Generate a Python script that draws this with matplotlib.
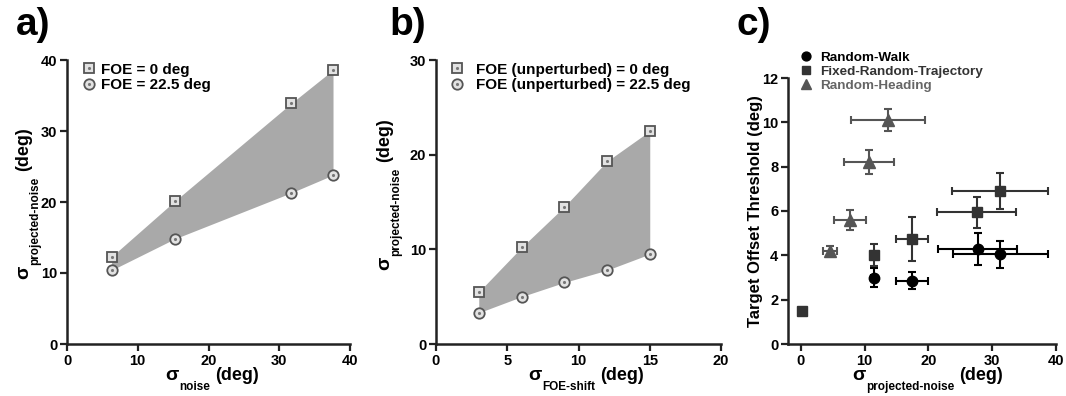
import numpy as np
import matplotlib
matplotlib.use("Agg")
import matplotlib.pyplot as plt
from matplotlib.legend_handler import HandlerTuple
from matplotlib.transforms import IdentityTransform

plt.rcParams['font.family'] = 'Liberation Sans'
plt.rcParams['font.weight'] = 'bold'
plt.rcParams['axes.labelweight'] = 'bold'

# panel a
a_noise = [6.3, 15.2, 31.7, 37.6]
a_foe0 = [12.3, 20.1, 33.9, 38.6]
a_foe225 = [10.4, 14.8, 21.3, 23.8]

# panel b
b_shift = [3, 6, 9, 12, 15]
b_foe0 = [5.5, 10.2, 14.5, 19.3, 22.5]
b_foe225 = [3.3, 5.0, 6.5, 7.8, 9.5]

# panel c
rw_x = [11.5, 17.5, 27.7, 31.3]
rw_y = [3.0, 2.85, 4.3, 4.05]
rw_xerr = [0.5, 2.5, 6.2, 7.5]
rw_yerr = [0.45, 0.38, 0.72, 0.6]

frt_x = [0.2, 11.5, 17.5, 27.6, 31.2]
frt_y = [1.5, 4.0, 4.75, 5.95, 6.9]
frt_xerr = [0.0, 0.5, 2.5, 6.2, 7.5]
frt_yerr = [0.0, 0.5, 1.0, 0.7, 0.8]

rh_x = [4.6, 7.7, 10.7, 13.7]
rh_y = [4.2, 5.6, 8.2, 10.1]
rh_xerr = [1.1, 2.5, 3.9, 5.8]
rh_yerr = [0.22, 0.45, 0.55, 0.5]

W, H = 1066, 396
fig = plt.figure(figsize=(W / 100, H / 100), dpi=100)
axa = fig.add_axes([67 / W, 1 - 344 / H, 283 / W, 284 / H])
axb = fig.add_axes([436 / W, 1 - 344 / H, 285 / W, 284 / H])
axc = fig.add_axes([788 / W, 1 - 344 / H, 268 / W, 266 / H])
renderer = fig.canvas.get_renderer()

FILL = '#a9a9a9'
EDGE = '#555555'


def style(ax):
    for s in ['top', 'right']:
        ax.spines[s].set_visible(False)
    for s in ['left', 'bottom']:
        ax.spines[s].set_linewidth(1.8)
        ax.spines[s].set_color('#222222')
    ax.tick_params(width=1.6, length=5, labelsize=10.5, color='#222222', pad=2)
    for lab in ax.get_xticklabels() + ax.get_yticklabels():
        lab.set_fontweight('bold')


def sigma_label(x, y, sub, vertical=False):
    # x, y: pixel position (from top-left) of the start of the sigma baseline
    pieces = [('σ', 14, 0, 0), (sub, 8.5, 10, 1), ('(deg)', 13, 0, 5)]
    pos = 0
    for s, size, drop, gap in pieces:
        pos += gap
        t = fig.text(0, 0, s, transform=IdentityTransform(), fontsize=size,
                     fontweight='bold', rotation_mode='anchor',
                     ha='left', va='baseline')
        w = t.get_window_extent(renderer).width
        if vertical:
            t.set_position((x + drop, H - (y - pos)))
            t.set_rotation(90)
        else:
            t.set_position((x + pos, H - (y + drop)))
        pos += w


def shaded(ax, x, top, bot, labels, anchor, textpad):
    ax.fill_between(x, bot, top, color=FILL, lw=0)
    mk = dict(ms=7.5, mfc='#e2e2e2', mec=EDGE, mew=1.3, ls='none')
    dot = dict(marker='.', ms=2.5, color='#777777', ls='none')
    ax.plot(x, top, 's', zorder=3, **mk)
    ax.plot(x, top, zorder=4, **dot)
    ax.plot(x, bot, 'o', zorder=3, **mk)
    ax.plot(x, bot, zorder=4, **dot)
    hs = ax.plot([], [], 's', **mk)[0]
    hc = ax.plot([], [], 'o', **mk)[0]
    hd = ax.plot([], [], **dot)[0]
    ax.legend([(hs, hd), (hc, hd)], labels, loc='upper left',
              bbox_to_anchor=anchor, frameon=False, borderpad=0,
              borderaxespad=0, handlelength=0.8, handletextpad=textpad,
              labelspacing=0.1, prop={'weight': 'bold', 'size': 11},
              handler_map={tuple: HandlerTuple(ndivide=1, pad=0)})


# a)
shaded(axa, a_noise, a_foe0, a_foe225, ['FOE = 0 deg', 'FOE = 22.5 deg'],
       (0.057, 0.99), 0.35)
axa.set_xlim(0, 40)
axa.set_ylim(0, 40)
axa.set_xticks([0, 10, 20, 30, 40])
axa.set_yticks([0, 10, 20, 30, 40])
style(axa)
sigma_label(165, 380, 'noise')
sigma_label(28, 279, 'projected-noise', vertical=True)

# b)
shaded(axb, b_shift, b_foe0, b_foe225,
       ['FOE (unperturbed) = 0 deg', 'FOE (unperturbed) = 22.5 deg'],
       (0.053, 0.99), 0.8)
axb.set_xlim(0, 20)
axb.set_ylim(0, 30)
axb.set_xticks([0, 5, 10, 15, 20])
axb.set_yticks([0, 10, 20, 30])
style(axb)
sigma_label(528, 380, 'FOE-shift')
sigma_label(389, 270, 'projected-noise', vertical=True)

# c)
eb = dict(capsize=3, elinewidth=1.5, capthick=1.5, ls='none')
axc.errorbar(rw_x, rw_y, xerr=rw_xerr, yerr=rw_yerr, fmt='o', ms=7.5,
             color='#000000', label='Random-Walk', **eb)
axc.errorbar(frt_x, frt_y, xerr=frt_xerr, yerr=frt_yerr, fmt='s', ms=7,
             color='#333333', label='Fixed-Random-Trajectory', **eb)
axc.errorbar(rh_x, rh_y, xerr=rh_xerr, yerr=rh_yerr, fmt='^', ms=8,
             color='#555555', label='Random-Heading', **eb)
axc.set_xlim(-2, 40)
axc.set_ylim(0, 12)
axc.set_xticks([0, 10, 20, 30, 40])
axc.set_yticks([0, 2, 4, 6, 8, 10, 12])
axc.set_ylabel('Target Offset Threshold (deg)', fontsize=12, fontweight='bold')
axc.yaxis.set_label_coords(-0.094, 0.5)
style(axc)
sigma_label(852, 380, 'projected-noise')
handles, labels = axc.get_legend_handles_labels()
handles = [h[0] for h in handles]
leg = axc.legend(handles, labels, loc='upper left', bbox_to_anchor=(0.045, 1.10),
                 frameon=False, borderpad=0, borderaxespad=0, handlelength=0.9,
                 handletextpad=0.6, labelspacing=0.12, markerscale=0.85,
                 prop={'weight': 'bold', 'size': 9.7})
for t, c in zip(leg.get_texts(), ['#000000', '#333333', '#666666']):
    t.set_color(c)

for lab, x in [('a)', 16), ('b)', 389), ('c)', 736)]:
    fig.text(x / W, 1 - 7 / H, lab, fontsize=28, fontweight='bold', va='top')

fig.savefig('out.png', dpi=100)
